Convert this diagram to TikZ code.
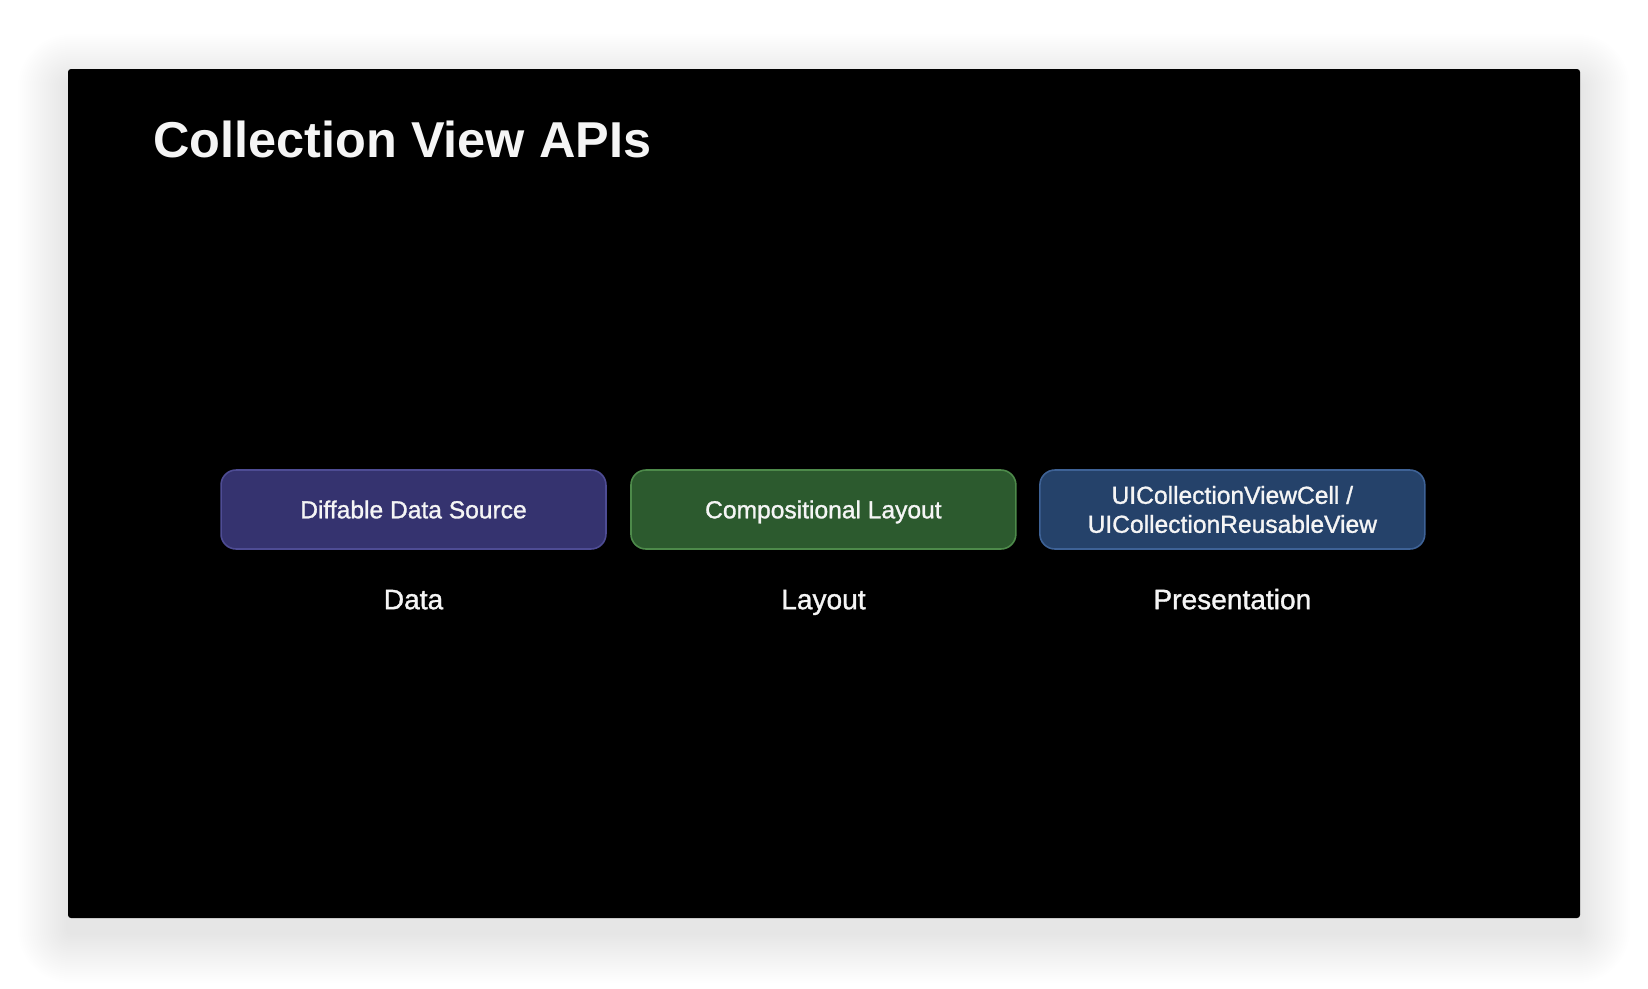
\documentclass[tikz,border=0pt]{standalone}
\usepackage{fontspec}
\setmainfont{Liberation Sans}
\newfontfamily\medfont[FakeBold=1.2]{Liberation Sans}
\usetikzlibrary{positioning}
\definecolor{datafill}{HTML}{35336F}
\definecolor{dataedge}{HTML}{4E4C94}
\definecolor{layoutfill}{HTML}{2C5A2E}
\definecolor{layoutedge}{HTML}{4D8A4A}
\definecolor{presfill}{HTML}{25426A}
\definecolor{presedge}{HTML}{3E6296}
\definecolor{slidetext}{HTML}{F5F5F5}

\begin{document}
\begin{tikzpicture}[x=0.02cm, y=-0.02cm,
	apibox/.style={rectangle, rounded corners=0.3cm, line width=0.9pt, minimum width=7.7cm, minimum height=1.58cm, outer sep=0pt, inner sep=0pt, align=center, text=slidetext, font=\medfont\fontsize{14}{16.5}\selectfont},
	oneline/.style={text height=10pt, text depth=0pt},
	role/.style={text=slidetext, font=\medfont\fontsize{16}{19}\selectfont, text height=11.5pt, text depth=3pt, inner sep=0pt, outer sep=0pt}]
	\useasboundingbox (0,0) rectangle (1648,988);
	\fill[white] (0,0) rectangle (1648,988);
	\foreach \s [evaluate=\s as \r using 0.02*\s+0.06] in {2,4,...,50}
		\fill[black, opacity=0.0035, rounded corners=\r cm] (68-\s,84-\s) rectangle (1580+\s,933+\s);
	\fill[black, rounded corners=0.06cm] (68,69) rectangle (1580,918);
	\node[anchor=base west, text=slidetext, inner sep=0pt, font=\fontsize{28.7}{34}\selectfont\bfseries] (title) at (153,157) {Collection View APIs};
	\node[apibox, oneline, fill=datafill, draw=dataedge] (datasrc) at (413.5,509.5) {Diffable Data Source};
	\node[apibox, oneline, fill=layoutfill, draw=layoutedge, right=0.5cm of datasrc] (complayout) {Compositional Layout};
	\node[apibox, fill=presfill, draw=presedge, right=0.48cm of complayout] (cells) {UICollectionViewCell /\\UICollectionReusableView};
	\node[role, below=0.8cm of datasrc] (datalbl) {Data};
	\node[role, below=0.8cm of complayout] (layoutlbl) {Layout};
	\node[role, below=0.8cm of cells] (presentlbl) {Presentation};
\end{tikzpicture}
\end{document}
